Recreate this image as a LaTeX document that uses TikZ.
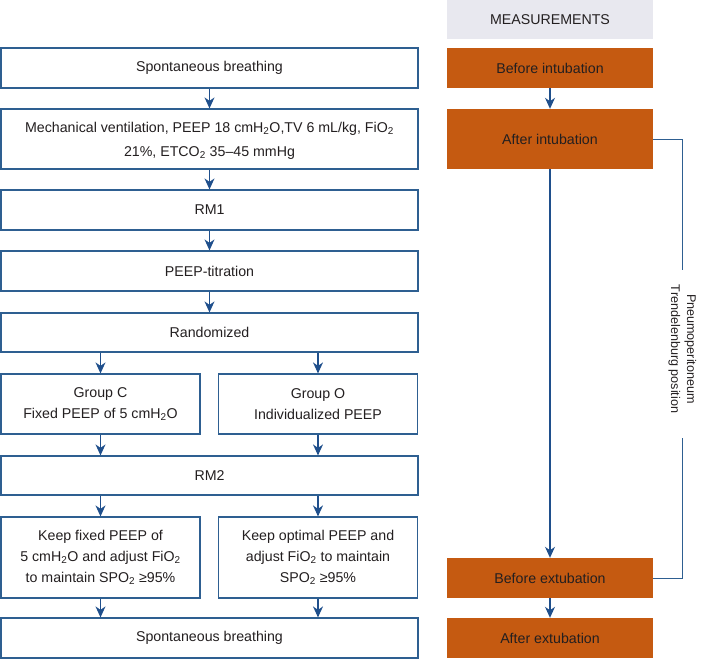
\documentclass[tikz,border=0pt]{standalone}
\usepackage{fontspec}
\setmainfont{Liberation Sans}
\usetikzlibrary{arrows.meta}
\definecolor{bord}{HTML}{2E5F91}
\definecolor{arr}{HTML}{1F4F8C}
\definecolor{orng}{HTML}{C55A11}
\definecolor{meas}{HTML}{E8E8EF}
\definecolor{txt}{HTML}{231F20}
\newcommand{\fsz}{\fontsize{14.2}{21}\selectfont}
\newcommand{\sub}[1]{\textsubscript{#1}}
\begin{document}
\begin{tikzpicture}[x=1pt,y=-1pt,
  box/.style={draw=bord, line width=1.2pt, fill=white, inner sep=0pt, align=center, font=\fsz, text=txt},
  mbox/.style={fill=orng, draw=none, inner sep=0pt, align=center, font=\fsz, text=txt, minimum width=206pt},
  wide/.style={box, minimum width=417pt},
  half/.style={box, minimum width=199pt},
  arrow/.style={draw=arr, line width=1.1pt, -{Stealth[length=11pt,width=10pt,inset=3.5pt]}},
  bline/.style={draw=bord, line width=1pt}]
\useasboundingbox (0,0) rectangle (702,659);
% left column
\node[wide, minimum height=40pt] (sb1) at (209.5,68) {Spontaneous breathing};
\node[wide, minimum height=60pt, text depth=0pt] (mv) at (209.5,139) {Mechanical ventilation, PEEP 18 cmH\sub{2}O,TV 6 mL/kg, FiO\sub{2}\\[3pt]21\%, ETCO\sub{2} 35--45 mmHg};
\node[wide, minimum height=40pt] (rm1) at (209.5,210) {RM1};
\node[wide, minimum height=40pt] (pt) at (209.5,271) {PEEP-titration};
\node[wide, minimum height=39pt] (rnd) at (209.5,332.5) {Randomized};
\node[half, minimum height=60pt] (gc) at (100.5,404) {Group C\\Fixed PEEP of 5 cmH\sub{2}O};
\node[half, minimum height=60pt] (go) at (318,404) {Group O\\Individualized PEEP};
\node[wide, minimum height=39pt] (rm2) at (209.5,475.5) {RM2};
\node[half, minimum height=81pt] (kc) at (100.5,557.5) {Keep fixed PEEP of\\5 cmH\sub{2}O and adjust FiO\sub{2}\\to maintain SPO\sub{2} ≥95\%};
\node[half, minimum height=81pt] (ko) at (318,557.5) {Keep optimal PEEP and\\adjust FiO\sub{2} to maintain\\SPO\sub{2} ≥95\%};
\node[wide, minimum height=40pt] (sb2) at (209.5,638) {Spontaneous breathing};
% right column
\node[fill=meas, inner sep=0pt, minimum width=206pt, minimum height=39pt, font=\fsz, text=txt] (meas) at (550,19.5) {MEASUREMENTS};
\node[mbox, minimum height=40pt] (bi) at (550,68) {Before intubation};
\node[mbox, minimum height=60pt] (ai) at (550,139) {After intubation};
\node[mbox, minimum height=40pt] (be) at (550,578) {Before extubation};
\node[mbox, minimum height=40pt] (ae) at (550,638) {After extubation};
% arrows left
\draw[arrow] (sb1) -- (mv);
\draw[arrow] (mv) -- (rm1);
\draw[arrow] (rm1) -- (pt);
\draw[arrow] (pt) -- (rnd);
\draw[arrow] (rnd.south -| gc.north) -- (gc.north);
\draw[arrow] (rnd.south -| go.north) -- (go.north);
\draw[arrow] (gc.south) -- (rm2.north -| gc.south);
\draw[arrow] (go.south) -- (rm2.north -| go.south);
\draw[arrow] (rm2.south -| kc.north) -- (kc.north);
\draw[arrow] (rm2.south -| ko.north) -- (ko.north);
\draw[arrow] (kc.south) -- (sb2.north -| kc.south);
\draw[arrow] (ko.south) -- (sb2.north -| ko.south);
% arrows right
\draw[arrow] (bi) -- (ai);
\draw[arrow] (ai) -- (be);
\draw[arrow] (be) -- (ae);
% bracket
\coordinate (gt) at (682,270);
\coordinate (gb) at (682,438);
\draw[bline] (ai.east) -| (gt);
\draw[bline] (be.east) -| (gb);
\node[rotate=-90, align=center, inner sep=0pt, font=\fontsize{12.6}{16}\selectfont, text=txt] (pn) at (682.5,349) {Pneumoperitoneum\\Trendelenburg position};
\end{tikzpicture}
\end{document}
